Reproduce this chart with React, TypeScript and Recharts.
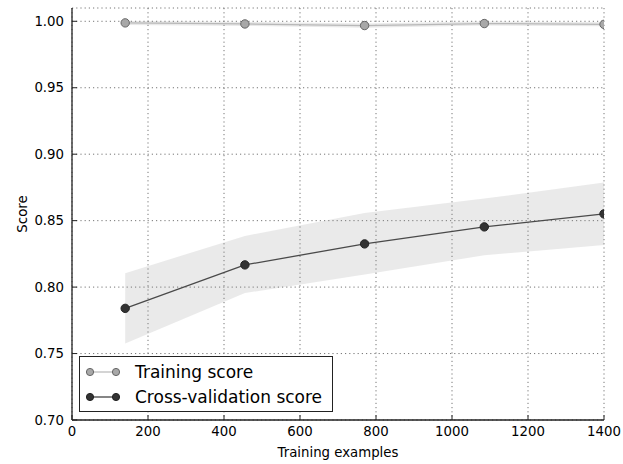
import React from 'react';
import {
  ComposedChart, Line, Area, XAxis, YAxis, CartesianGrid, Legend,
} from 'recharts';

const trainSizes = [140, 455, 770, 1085, 1400];
const trainMean = [0.9988, 0.998, 0.9968, 0.9983, 0.9977];
const trainLow = [0.9973, 0.9965, 0.9952, 0.9968, 0.9962];
const trainHigh = [1.0003, 0.9995, 0.9984, 0.9998, 0.9992];
const cvMean = [0.784, 0.8167, 0.8325, 0.8453, 0.8551];
const cvLow = [0.7575, 0.7955, 0.8095, 0.824, 0.8316];
const cvHigh = [0.8105, 0.8385, 0.8558, 0.8666, 0.8787];

const xTicks = [0, 200, 400, 600, 800, 1000, 1200, 1400];
const yTicks = [0.7, 0.75, 0.8, 0.85, 0.9, 0.95, 1.0];
const seriesNames = ['Training score', 'Cross-validation score'];

const data = trainSizes.map((x, i) => ({
  x,
  train: trainMean[i],
  trainBand: [trainLow[i], trainHigh[i]],
  cv: cvMean[i],
  cvBand: [cvLow[i], cvHigh[i]],
}));

const FONT = 'DejaVu Sans';
const AX = '#222';
const tickStyle = { fontFamily: FONT, fontSize: 13.3, fill: '#000' };

// layout constants
const W = 623;
const H = 464;
const MARGIN = { top: 8, right: 19, left: 0, bottom: 0 };
const Y_AXIS_W = 72;
const X_AXIS_H = 44;
const PLOT = {
  x: MARGIN.left + Y_AXIS_W,
  y: MARGIN.top,
  w: W - MARGIN.left - MARGIN.right - Y_AXIS_W,
  h: H - MARGIN.top - MARGIN.bottom - X_AXIS_H,
};

const legendStyles = [
  { line: '#bdbdbd', fill: '#a8a8a8', stroke: '#666' },
  { line: '#444', fill: '#333', stroke: '#222' },
];

const makeDot = (fill: string, stroke: string) => (props: any) => {
  const { cx, cy, index } = props;
  if (cx == null || cy == null) return <g key={index} />;
  return (
    <circle
      key={index}
      cx={cx}
      cy={cy}
      r={4.2}
      fill={fill}
      stroke={stroke}
      strokeWidth={1}
      clipPath="url(#plotAreaClip)"
    />
  );
};

const LegendBox = () => (
  <div
    style={{
      position: 'relative',
      width: 252,
      height: 54,
      border: '1px solid #222',
      background: '#fff',
      fontFamily: FONT,
      fontSize: 17,
      color: '#000',
    }}
  >
    {seriesNames.map((name, i) => (
      <div key={name} style={{ position: 'absolute', left: 0, top: 3 + i * 25, height: 24, width: 252 }}>
        <svg width={50} height={24} style={{ position: 'absolute', left: 0, top: 0 }}>
          <line x1={10} x2={36} y1={12} y2={12} stroke={legendStyles[i].line} strokeWidth={1.3} />
          <circle cx={10} cy={12} r={3.6} fill={legendStyles[i].fill} stroke={legendStyles[i].stroke} strokeWidth={1} />
          <circle cx={36} cy={12} r={3.6} fill={legendStyles[i].fill} stroke={legendStyles[i].stroke} strokeWidth={1} />
        </svg>
        <span style={{ position: 'absolute', left: 55, top: 0, lineHeight: '24px', whiteSpace: 'nowrap' }}>{name}</span>
      </div>
    ))}
  </div>
);

export default function App() {
  return (
    <div style={{ position: 'absolute', left: 0, top: 0, background: '#fff' }}>
      <svg width={0} height={0} style={{ position: 'absolute' }}>
        <defs>
          <clipPath id="plotAreaClip" clipPathUnits="userSpaceOnUse">
            <rect x={PLOT.x} y={PLOT.y} width={PLOT.w} height={PLOT.h} />
          </clipPath>
        </defs>
      </svg>
      <ComposedChart width={W} height={H} data={data} margin={MARGIN}>
        <CartesianGrid stroke="#666" strokeDasharray="1.2 3" strokeWidth={0.9} />
        <XAxis
          dataKey="x"
          type="number"
          domain={[0, 1400]}
          ticks={xTicks}
          allowDataOverflow
          height={X_AXIS_H}
          tickSize={-5}
          tickMargin={12}
          tick={tickStyle}
          axisLine={{ stroke: AX, strokeWidth: 1.3 }}
          tickLine={{ stroke: AX }}
          label={{
            content: (p: any) => {
              const vb = p.viewBox || {};
              return (
                <text x={vb.x + vb.width / 2} y={vb.y + 37} textAnchor="middle" fontFamily={FONT} fontSize={13.3} fill="#000">
                  Training examples
                </text>
              );
            },
          }}
        />
        <XAxis
          xAxisId="top"
          orientation="top"
          type="number"
          domain={[0, 1400]}
          ticks={xTicks}
          allowDataOverflow
          height={0}
          tickSize={-5}
          tickFormatter={() => ''}
          axisLine={{ stroke: AX, strokeWidth: 1.3 }}
          tickLine={{ stroke: AX }}
        />
        <YAxis
          type="number"
          domain={[0.7, 1.01]}
          ticks={yTicks}
          allowDataOverflow
          width={Y_AXIS_W}
          tickSize={-5}
          tickMargin={13}
          tick={tickStyle}
          tickFormatter={(v: number) => v.toFixed(2)}
          axisLine={{ stroke: AX, strokeWidth: 1.3 }}
          tickLine={{ stroke: AX }}
          label={{
            content: (p: any) => {
              const vb = p.viewBox || {};
              const cx = 22;
              const cy = vb.y + vb.height / 2;
              return (
                <text x={cx} y={cy} transform={`rotate(-90, ${cx}, ${cy})`} textAnchor="middle" dominantBaseline="central" fontFamily={FONT} fontSize={13.3} fill="#000">
                  Score
                </text>
              );
            },
          }}
        />
        <YAxis
          yAxisId="right"
          orientation="right"
          type="number"
          domain={[0.7, 1.01]}
          ticks={yTicks}
          allowDataOverflow
          width={0}
          tickSize={-5}
          tickFormatter={() => ''}
          axisLine={{ stroke: AX, strokeWidth: 1.3 }}
          tickLine={{ stroke: AX }}
        />
        <Area
          dataKey="trainBand"
          type="linear"
          stroke="none"
          fill="#999"
          fillOpacity={0.22}
          isAnimationActive={false}
          activeDot={false}
        />
        <Area
          dataKey="cvBand"
          type="linear"
          stroke="none"
          fill="#888"
          fillOpacity={0.18}
          isAnimationActive={false}
          activeDot={false}
        />
        <Line
          dataKey="train"
          type="linear"
          stroke="#b8b8b8"
          strokeWidth={1.3}
          dot={makeDot('#a8a8a8', '#666')}
          isAnimationActive={false}
          activeDot={false}
        />
        <Line
          dataKey="cv"
          type="linear"
          stroke="#4a4a4a"
          strokeWidth={1.3}
          dot={makeDot('#333', '#222')}
          isAnimationActive={false}
          activeDot={false}
        />
        <Legend
          layout="vertical"
          align="center"
          verticalAlign="middle"
          content={() => <LegendBox />}
          wrapperStyle={{ position: 'absolute', left: 79, top: 356, width: 'auto', height: 'auto' }}
        />
      </ComposedChart>
    </div>
  );
}
